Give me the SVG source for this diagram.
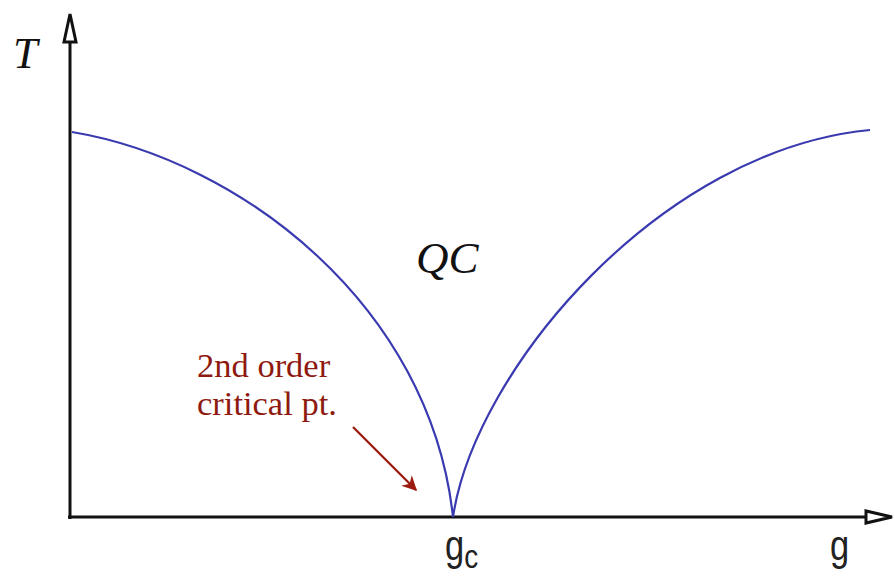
<svg xmlns="http://www.w3.org/2000/svg" width="895" height="581" viewBox="0 0 895 581">
<style>
.axis{stroke:#111;stroke-width:3;fill:none}
.curve{stroke:#3a3ab0;stroke-width:2.2;fill:none}
.it{font-family:"Liberation Serif",serif;font-style:italic;fill:#111}
.lbl{font-family:"Liberation Sans",sans-serif;fill:#222}
.red{font-family:"Liberation Serif",serif;fill:#8e1a0f;font-size:34.5px}
</style>
<defs>
<marker id="ah" viewBox="0 0 10 10" refX="9" refY="5" markerWidth="6.5" markerHeight="6.5" orient="auto" markerUnits="strokeWidth">
<path d="M0,0 L10,5 L0,10 L3,5 z" fill="#9b1b0e"/>
</marker>
</defs>
<g id="axes">
<path class="axis" d="M70,519 V42"/>
<path class="axis" d="M70,42 L64,42 L70,14 L76,42 Z" stroke-linejoin="miter"/>
<path class="axis" d="M68,517 H866"/>
<path class="axis" d="M866,517 V511 L892,517 L866,523 Z"/>
<text class="it" x="13" y="68" font-size="44">T</text>
<text class="lbl" x="830" y="560" font-size="42" transform="translate(830,560) scale(0.82,1) translate(-830,-560)">g</text>
<text class="lbl" x="445" y="560" font-size="42" transform="translate(445,560) scale(0.82,1) translate(-445,-560)">g<tspan font-size="34" dy="8">c</tspan></text>
</g>
<g id="curves">
<path class="curve" d="M72,132 C240,160 430,305 453,517"/>
<path class="curve" d="M453,517 C475,370 660,150 870,130"/>
</g>
<g id="region-QC">
<text class="it" x="416" y="273" font-size="45">QC</text>
</g>
<g id="note">
<text class="red" x="197" y="377">2nd order</text>
<text class="red" x="197" y="415">critical pt.</text>
</g>
<g id="connectors">
<path d="M353,427 L416,490" stroke="#9b1b0e" stroke-width="2.3" fill="none" marker-end="url(#ah)"/>
</g>
</svg>
